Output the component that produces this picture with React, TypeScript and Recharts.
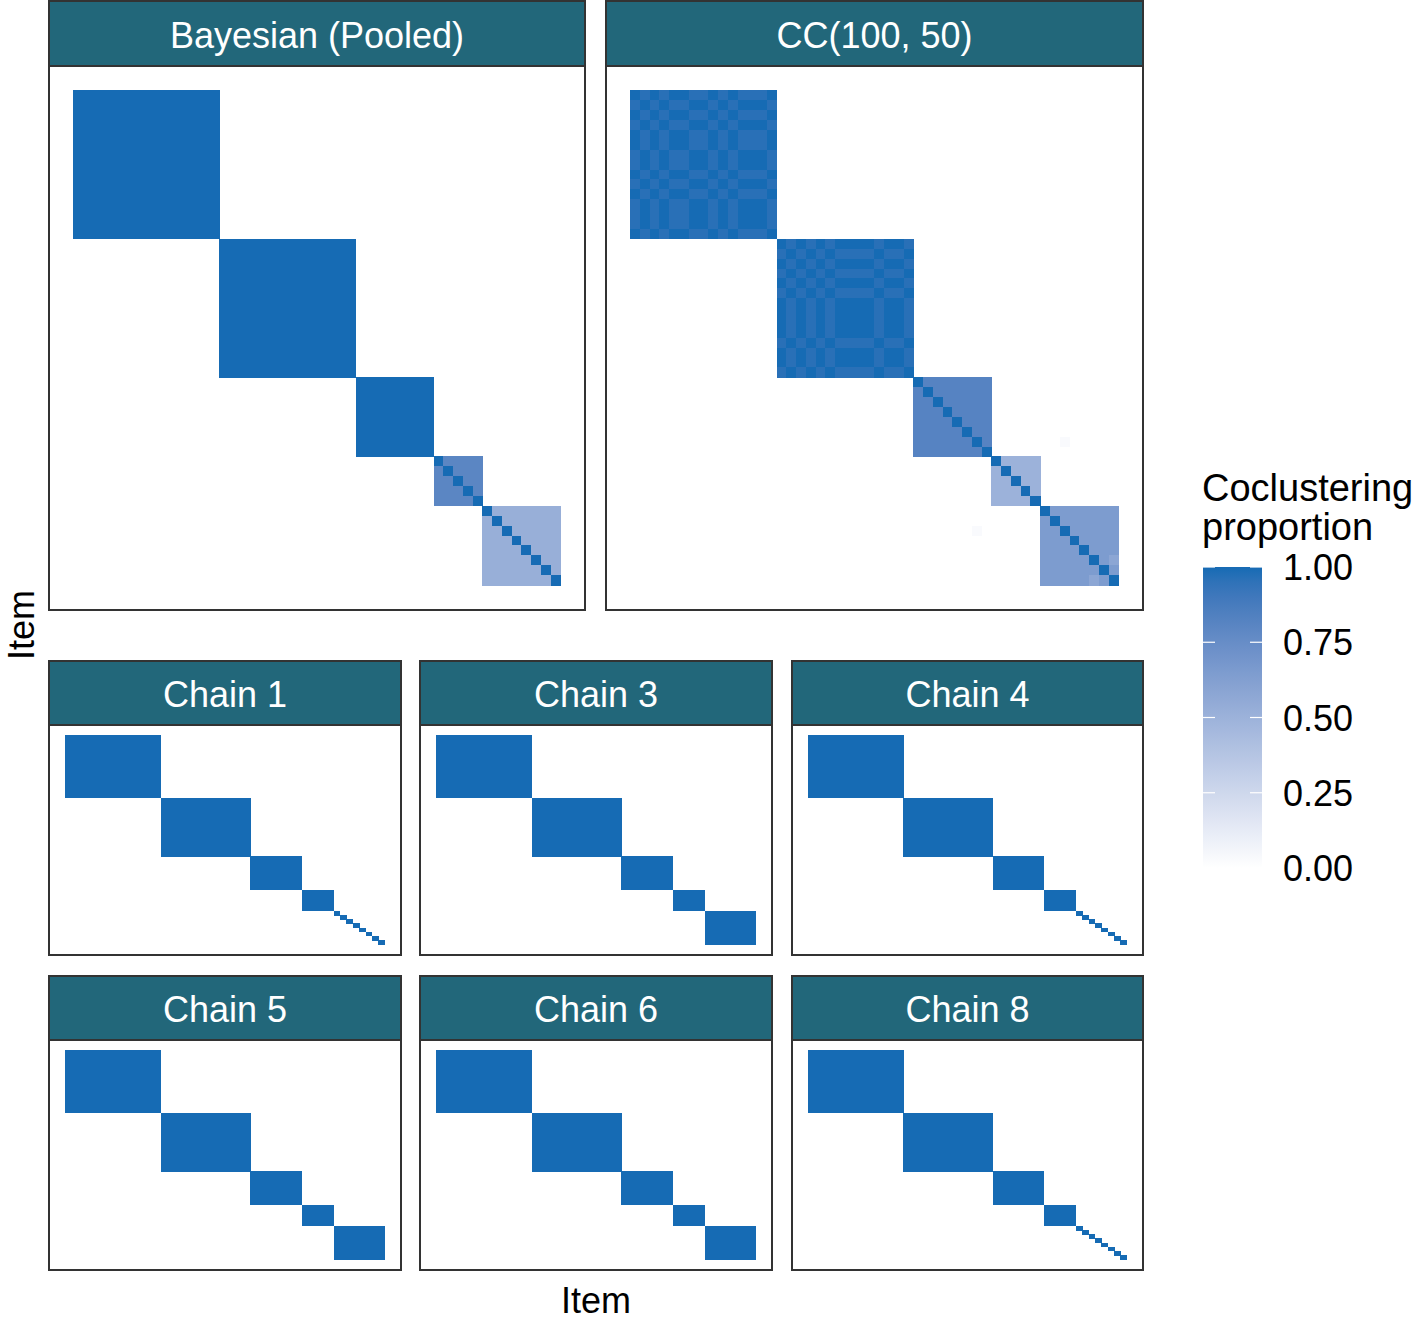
import React from 'react';
import { Scatter, ScatterChart, XAxis, YAxis } from 'recharts';

// ---- data -----------------------------------------------------------------
const ITEM_COUNT = 50;
const AXIS_PAD = 2.5; // 5% expansion of the item axis on each side

// cluster sizes (in item order) and the within-cluster coclustering value
const POOLED_SIZES = [15, 14, 8, 5, 8];
const POOLED_WITHIN = [1, 1, 1, 0.8, 0.52];

const CC_SIZES = [15, 14, 8, 5, 8];
const CC_WITHIN = [1, 1, 0.82, 0.5, 0.65];
// alternating sub-groups inside the two big CC clusters
const CC_BLOCK1_RUNS = [1, 1, 1, 1, 2, 2, 1, 1, 1, 3, 1];
const CC_BLOCK2_RUNS = [1, 1, 1, 1, 1, 1, 4, 1, 2, 1];
const CC_CROSS_VALUE = 0.965;
const CC_EXTRA_ROWS = [35, 44, 47, 49];
const CC_EXTRA_COLS = [44, 35, 49, 47];
const CC_EXTRA_VALUES = [0.03, 0.03, 0.58, 0.58];

const CHAIN_SINGLETONS = [15, 14, 8, 5, 1, 1, 1, 1, 1, 1, 1, 1];
const CHAIN_FULL = [15, 14, 8, 5, 8];

const LEGEND_TICKS = [1, 0.75, 0.5, 0.25, 0];
const LEGEND_LABELS = ['1.00', '0.75', '0.50', '0.25', '0.00'];

// ---- styling --------------------------------------------------------------
const HIGH_COLOR = [22, 107, 180];
const STRIP_COLOR = '#22677a';
const BORDER_COLOR = '#333333';
const FONT = '"Liberation Sans", Arial, Helvetica, sans-serif';
const BORDER_W = 2.4;

// colour ramp white -> blue interpolated in CIELAB (like scales::seq_gradient_pal)
const toLin = (c: number) => {
  const s = c / 255;
  return s <= 0.04045 ? s / 12.92 : Math.pow((s + 0.055) / 1.055, 2.4);
};
const fromLin = (c: number) => {
  const v = c <= 0.0031308 ? 12.92 * c : 1.055 * Math.pow(c, 1 / 2.4) - 0.055;
  return Math.round(Math.max(0, Math.min(1, v)) * 255);
};
const fLab = (t: number) => (t > 0.008856 ? Math.cbrt(t) : 7.787 * t + 16 / 116);
const fInv = (t: number) => (t * t * t > 0.008856 ? t * t * t : (t - 16 / 116) / 7.787);

function rgbToLab([r, g, b]: number[]) {
  const R = toLin(r), G = toLin(g), B = toLin(b);
  const X = (0.4124 * R + 0.3576 * G + 0.1805 * B) / 0.95047;
  const Y = 0.2126 * R + 0.7152 * G + 0.0722 * B;
  const Z = (0.0193 * R + 0.1192 * G + 0.9505 * B) / 1.08883;
  return [116 * fLab(Y) - 16, 500 * (fLab(X) - fLab(Y)), 200 * (fLab(Y) - fLab(Z))];
}

function labToRgb([L, a, b]: number[]) {
  const fy = (L + 16) / 116;
  const X = fInv(fy + a / 500) * 0.95047;
  const Y = fInv(fy);
  const Z = fInv(fy - b / 200) * 1.08883;
  const R = 3.2406 * X - 1.5372 * Y - 0.4986 * Z;
  const G = -0.9689 * X + 1.8758 * Y + 0.0415 * Z;
  const B = 0.0557 * X - 0.204 * Y + 1.057 * Z;
  return `rgb(${fromLin(R)},${fromLin(G)},${fromLin(B)})`;
}

const LOW_LAB = rgbToLab([255, 255, 255]);
const HIGH_LAB = rgbToLab(HIGH_COLOR);
const fillFor = (v: number) =>
  labToRgb(LOW_LAB.map((l, k) => l + (HIGH_LAB[k] - l) * v));

// ---- matrices -------------------------------------------------------------
type Cell = { x: number; y: number; v: number };

function buildCells(sizes: number[], within: number[] = [], runs: (number[] | null)[] = []) {
  const cells: Cell[] = [];
  let start = 0;
  sizes.forEach((n, b) => {
    const r = runs[b];
    const sub: number[] = [];
    if (r) r.forEach((len, k) => { for (let t = 0; t < len; t++) sub.push(k % 2); });
    for (let i = 0; i < n; i++) {
      for (let j = 0; j < n; j++) {
        let v = i === j ? 1 : within[b] ?? 1;
        if (r && i !== j && sub[i] !== sub[j]) v = CC_CROSS_VALUE;
        cells.push({ x: start + j + 0.5, y: start + i + 0.5, v });
      }
    }
    start += n;
  });
  return cells;
}

const pooledCells = buildCells(POOLED_SIZES, POOLED_WITHIN);
const ccCells = (() => {
  const cells = buildCells(CC_SIZES, CC_WITHIN, [CC_BLOCK1_RUNS, CC_BLOCK2_RUNS]);
  CC_EXTRA_ROWS.forEach((row, k) => {
    const col = CC_EXTRA_COLS[k];
    const hit = cells.find((c) => c.x === col + 0.5 && c.y === row + 0.5);
    if (hit) hit.v = CC_EXTRA_VALUES[k];
    else cells.push({ x: col + 0.5, y: row + 0.5, v: CC_EXTRA_VALUES[k] });
  });
  return cells;
})();
const singletonCells = buildCells(CHAIN_SINGLETONS);
const fullCells = buildCells(CHAIN_FULL);

// ---- components -----------------------------------------------------------
function Border({ x0, y0, x1, y1 }: { x0: number; y0: number; x1: number; y1: number }) {
  return (
    <div
      style={{
        position: 'absolute',
        left: x0 - BORDER_W / 2,
        top: y0 - BORDER_W / 2,
        width: x1 - x0 + BORDER_W,
        height: y1 - y0 + BORDER_W,
        boxSizing: 'border-box',
        border: `${BORDER_W}px solid ${BORDER_COLOR}`,
        pointerEvents: 'none',
      }}
    />
  );
}

type FacetProps = {
  title: string;
  x0: number;
  x1: number;
  stripTop: number;
  panelTop: number;
  panelBottom: number;
  cells: Cell[];
};

function Facet({ title, x0, x1, stripTop, panelTop, panelBottom, cells }: FacetProps) {
  const w = x1 - x0;
  const h = panelBottom - panelTop;
  const span = ITEM_COUNT + 2 * AXIS_PAD;
  const cw = w / span;
  const ch = h / span;
  const shape = (p: any) => (
    <rect
      x={p.cx - cw / 2 - 0.25}
      y={p.cy - ch / 2 - 0.25}
      width={cw + 0.5}
      height={ch + 0.5}
      fill={fillFor(p.payload.v)}
      shapeRendering="crispEdges"
    />
  );
  return (
    <>
      <div
        style={{
          position: 'absolute',
          left: x0,
          top: stripTop,
          width: w,
          height: panelTop - stripTop,
          background: STRIP_COLOR,
          color: '#ffffff',
          fontFamily: FONT,
          fontSize: 36,
          display: 'flex',
          alignItems: 'center',
          justifyContent: 'center',
          paddingTop: 4,
          boxSizing: 'border-box',
        }}
      >
        {title}
      </div>
      <Border x0={x0} y0={stripTop} x1={x1} y1={panelTop} />
      <div style={{ position: 'absolute', left: x0, top: panelTop }}>
        <ScatterChart width={w} height={h} margin={{ top: 0, right: 0, bottom: 0, left: 0 }}>
          <XAxis type="number" dataKey="x" domain={[-AXIS_PAD, ITEM_COUNT + AXIS_PAD]} hide allowDataOverflow />
          <YAxis type="number" dataKey="y" domain={[-AXIS_PAD, ITEM_COUNT + AXIS_PAD]} hide reversed allowDataOverflow />
          <Scatter data={cells} shape={shape} isAnimationActive={false} />
        </ScatterChart>
      </div>
      <Border x0={x0} y0={panelTop} x1={x1} y1={panelBottom} />
    </>
  );
}

function ColourBar() {
  const x = 1203;
  const top = 567;
  const bottom = 868;
  const bw = 59;
  const stops = Array.from({ length: 21 }, (_, k) => k / 20);
  return (
    <svg
      width={226}
      height={450}
      style={{ position: 'absolute', left: 1190, top: 450, overflow: 'hidden' }}
      viewBox="1190 450 226 450"
    >
      <defs>
        <linearGradient id="cbar" x1="0" y1="1" x2="0" y2="0">
          {stops.map((s) => (
            <stop key={s} offset={s} stopColor={fillFor(s)} />
          ))}
        </linearGradient>
      </defs>
      <text x={1202} y={501} fontFamily={FONT} fontSize={38} fill="#000">Coclustering</text>
      <text x={1202} y={540} fontFamily={FONT} fontSize={38} fill="#000">proportion</text>
      <rect x={x} y={top} width={bw} height={bottom - top} fill="url(#cbar)" />
      {LEGEND_TICKS.map((t, k) => {
        const y = bottom - t * (bottom - top);
        return (
          <g key={t}>
            <line x1={x} x2={x + 12} y1={y} y2={y} stroke="#ffffff" strokeWidth={1.2} />
            <line x1={x + bw - 12} x2={x + bw} y1={y} y2={y} stroke="#ffffff" strokeWidth={1.2} />
            <text x={1283} y={y + 13} fontFamily={FONT} fontSize={36} fill="#000">
              {LEGEND_LABELS[k]}
            </text>
          </g>
        );
      })}
    </svg>
  );
}

const COLS3 = [
  [49, 401],
  [420, 772],
  [792, 1143],
];

export default function App() {
  return (
    <div
      style={{
        position: 'absolute',
        left: 0,
        top: 0,
        width: 1416,
        height: 1320,
        background: '#ffffff',
        overflow: 'hidden',
        fontFamily: FONT,
      }}
    >
      <Facet title="Bayesian (Pooled)" x0={49} x1={585} stripTop={1} panelTop={66} panelBottom={610} cells={pooledCells} />
      <Facet title="CC(100, 50)" x0={606} x1={1143} stripTop={1} panelTop={66} panelBottom={610} cells={ccCells} />

      <Facet title="Chain 1" x0={COLS3[0][0]} x1={COLS3[0][1]} stripTop={661} panelTop={725} panelBottom={955} cells={singletonCells} />
      <Facet title="Chain 3" x0={COLS3[1][0]} x1={COLS3[1][1]} stripTop={661} panelTop={725} panelBottom={955} cells={fullCells} />
      <Facet title="Chain 4" x0={COLS3[2][0]} x1={COLS3[2][1]} stripTop={661} panelTop={725} panelBottom={955} cells={singletonCells} />

      <Facet title="Chain 5" x0={COLS3[0][0]} x1={COLS3[0][1]} stripTop={976} panelTop={1040} panelBottom={1270} cells={fullCells} />
      <Facet title="Chain 6" x0={COLS3[1][0]} x1={COLS3[1][1]} stripTop={976} panelTop={1040} panelBottom={1270} cells={fullCells} />
      <Facet title="Chain 8" x0={COLS3[2][0]} x1={COLS3[2][1]} stripTop={976} panelTop={1040} panelBottom={1270} cells={singletonCells} />

      <div
        style={{
          position: 'absolute',
          left: 596,
          top: 1283,
          height: 36,
          lineHeight: '36px',
          transform: 'translateX(-50%)',
          fontSize: 36,
          color: '#000',
          whiteSpace: 'nowrap',
        }}
      >
        Item
      </div>
      <div
        style={{
          position: 'absolute',
          left: 22,
          top: 625,
          height: 36,
          lineHeight: '36px',
          transform: 'translate(-50%, -50%) rotate(-90deg)',
          fontSize: 36,
          color: '#000',
          whiteSpace: 'nowrap',
        }}
      >
        Item
      </div>

      <ColourBar />
    </div>
  );
}
